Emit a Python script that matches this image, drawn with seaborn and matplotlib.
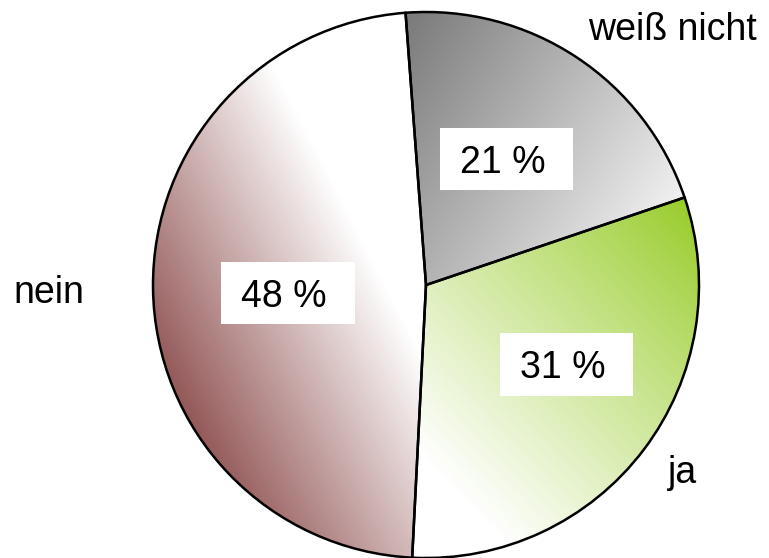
import numpy as np
import matplotlib
matplotlib.use("Agg")
import matplotlib.pyplot as plt
from matplotlib.patches import Rectangle
from matplotlib.colors import to_rgb
import seaborn as sns

# Survey answers, clockwise from the top
categories = ["weiß nicht", "ja", "nein"]
shares = [21, 31, 48]
pct_labels = [f"{v} %" for v in shares]

sns.set_theme(style="white")
plt.rcParams["font.family"] = ["Liberation Sans", "DejaVu Sans"]

W, H = 769, 558
fig = plt.figure(figsize=(W / 100, H / 100), dpi=100)
ax = fig.add_axes([0, 0, 1, 1])


def up(y):
    """Convert a top-down pixel row to the axes' bottom-up y."""
    return H - y


center = (426, up(285))
radius = 273

wedges, _ = ax.pie(shares, startangle=94.3, counterclock=False,
                   center=center, radius=radius, frame=True,
                   wedgeprops=dict(facecolor="none", edgecolor="black",
                                   linewidth=1.8, zorder=3))

# Linear gradient fills: (start point, end point, start colour, end colour, gamma)
gradients = {
    "weiß nicht": ((405, 20), (690, 200), "#7a7a7a", "#f4f4f4", 1.0),
    "ja": ((700, 215), (435, 470), "#98cc2a", "#ffffff", 0.9),
    "nein": ((188, 486), (426, 364), "#864242", "#ffffff", 1.0),
}

xs = np.arange(W) + 0.5
ys = np.arange(H) + 0.5
X, Y = np.meshgrid(xs, ys)
for name, wedge in zip(categories, wedges):
    p0, p1, c0, c1, g = gradients[name]
    p0 = np.array([p0[0], up(p0[1])], float)
    p1 = np.array([p1[0], up(p1[1])], float)
    d = p1 - p0
    t = ((X - p0[0]) * d[0] + (Y - p0[1]) * d[1]) / (d @ d)
    t = np.clip(t, 0, 1) ** g
    t = t[..., None]
    img = (1 - t) * np.array(to_rgb(c0)) + t * np.array(to_rgb(c1))
    im = ax.imshow(img, extent=(0, W, 0, H), origin="lower",
                   interpolation="bilinear", zorder=1)
    im.set_clip_path(wedge)

ax.set_xlim(0, W)
ax.set_ylim(0, H)
ax.set_aspect("equal")
ax.axis("off")

fs = 27
# Category names outside the pie (left x, baseline y)
outside = {"weiß nicht": (588, 40), "ja": (668, 483), "nein": (13, 303)}
for name in categories:
    x, y = outside[name]
    ax.text(x, up(y), name, fontsize=fs, ha="left", va="baseline",
            color="black", zorder=5)

# Percentage boxes (box left, top, width, height)
boxes = {"weiß nicht": (440, 128, 133, 62),
         "ja": (500, 333, 133, 63),
         "nein": (221, 262, 134, 62)}
for name, lab in zip(categories, pct_labels):
    bx, by, bw, bh = boxes[name]
    ax.add_patch(Rectangle((bx, up(by + bh)), bw, bh, facecolor="white",
                           edgecolor="none", zorder=4))
    ax.text(bx + bw / 2 - 4, up(by + bh / 2 + 14), lab, fontsize=fs,
            ha="center", va="baseline", color="black", zorder=5)

fig.savefig("out.png", dpi=100, facecolor="white")
